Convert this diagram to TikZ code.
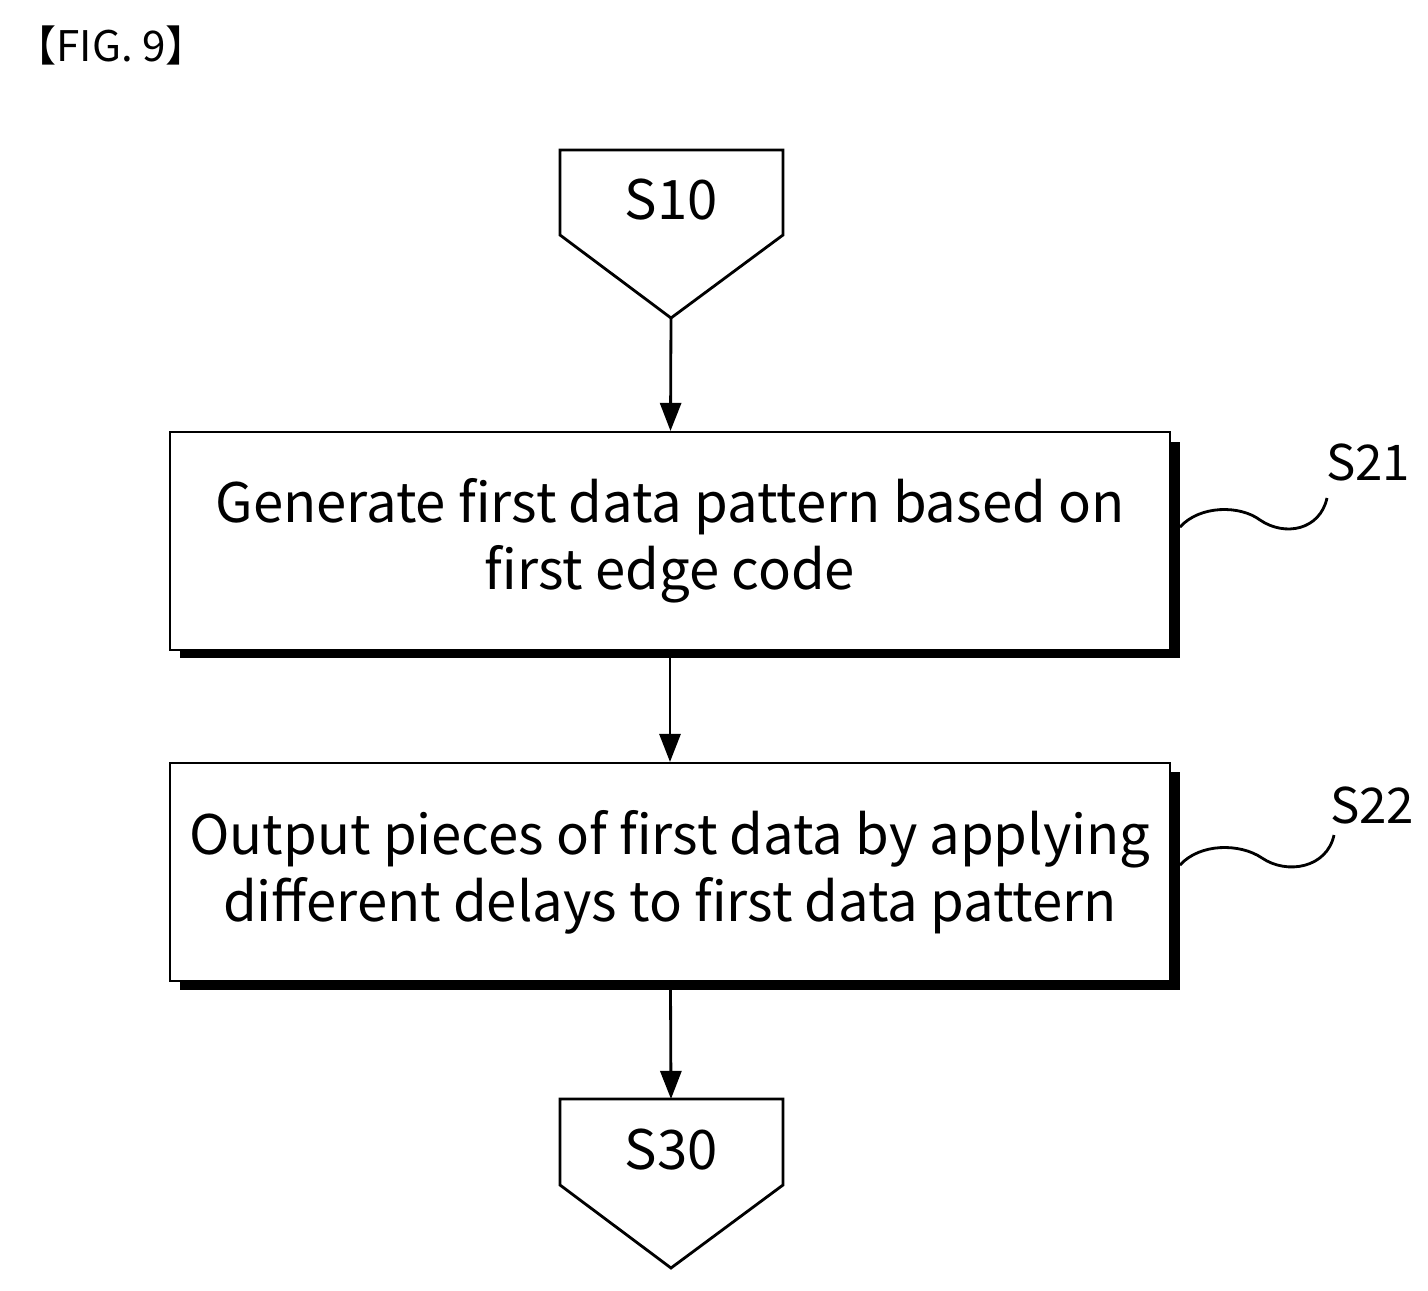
\documentclass[tikz,border=0pt]{standalone}
\usepackage{fontspec}
\setmainfont{Noto Sans CJK KR}
\usetikzlibrary{positioning,arrows.meta}

\tikzset{
  stepbox/.style={draw=black,line width=1.2pt,fill=white,minimum width=20cm,minimum height=4.36cm,align=center,
    font=\fontsize{31}{38}\selectfont,inner sep=0pt},
  flow/.style={-{Triangle[length=16pt,width=12pt]},line width=1.6pt},
  wave/.style={line width=1.6pt},
  offpage/.style={draw=black,line width=1.6pt,fill=white}
}

\begin{document}
\begin{tikzpicture}[x=0.02cm,y=-0.02cm]
	\useasboundingbox (0,0) rectangle (1428,1291);
	\node[anchor=west,font=\fontsize{24}{28}\selectfont] (fig) at (8,45) {【FIG. 9】};
	% off-page connectors
	\draw[offpage] (560,150) -- (783,150) -- (783,235) -- (671,318) -- (560,235) -- cycle;
	\coordinate (s10tip) at (671,318);
	\node[font=\fontsize{31}{38}\selectfont] (s10) at (671,200) {S10};
	\draw[offpage] (560,1099) -- (783,1099) -- (783,1185) -- (671,1268) -- (560,1185) -- cycle;
	\coordinate (s30top) at (671,1099);
	\node[font=\fontsize{31}{38}\selectfont] (s30) at (671,1150) {S30};
	% steps with shadow
	\fill (180,442) rectangle (1180,658);
	\node[stepbox] (s21box) at (670,541) {Generate first data pattern based on\\first edge code};
	\fill (180,772) rectangle (1180,990);
	\node[stepbox] (s22box) at (670,872) {Output pieces of first data by applying\\different delays to first data pattern};
	\draw[flow] (s10tip) -- (s21box);
	\draw[flow] (s21box) -- (s22box);
	\draw[flow] (s22box) -- (s30top);
	% labels
	\node[font=\fontsize{28}{32}\selectfont] (s21) at (1368,462) {S21};
	\node[font=\fontsize{28}{32}\selectfont] (s22) at (1372,805) {S22};
	\coordinate (w21) at (1180,527);
	\coordinate (w22) at (1180,865);
	\draw[wave] (w21) .. controls (1200,505) and (1240,505) .. (1260,520)
	  .. controls (1285,537) and (1320,530) .. (1327,498);
	\draw[wave] (w22) .. controls (1200,843) and (1240,843) .. (1262,858)
	  .. controls (1287,875) and (1327,868) .. (1334,835);
\end{tikzpicture}
\end{document}
